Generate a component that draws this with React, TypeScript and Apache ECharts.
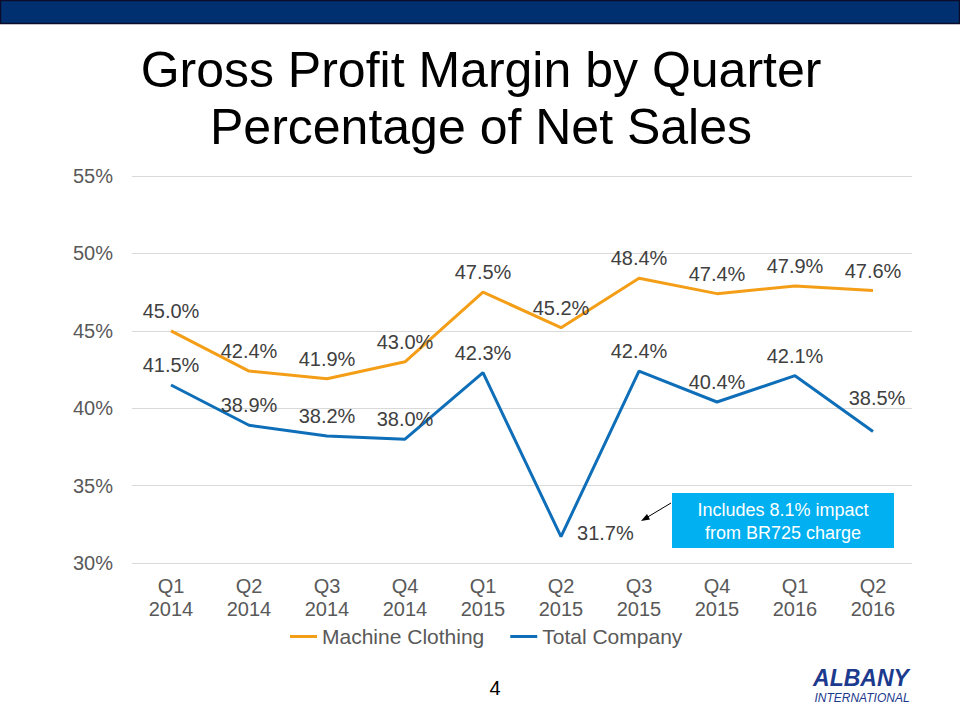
import React, { useEffect, useRef } from "react";
import * as echarts from "echarts";

const categories = [
  "Q1\n2014", "Q2\n2014", "Q3\n2014", "Q4\n2014", "Q1\n2015",
  "Q2\n2015", "Q3\n2015", "Q4\n2015", "Q1\n2016", "Q2\n2016",
];
const machineClothing = [45.0, 42.4, 41.9, 43.0, 47.5, 45.2, 48.4, 47.4, 47.9, 47.6];
const totalCompany = [41.5, 38.9, 38.2, 38.0, 42.3, 31.7, 42.4, 40.4, 42.1, 38.5];
const rightLabelIndexTotal = [5];
const raisedLabelIndexTotal = [9];
const yTicks = { min: 30, max: 55, interval: 5 };

const FONT = "'Liberation Sans', Arial, sans-serif";
const ORANGE = "#F49E17";
const BLUE = "#0E6EB8";

export default function App() {
  const ref = useRef<HTMLDivElement>(null);

  useEffect(() => {
    if (!ref.current) return;
    const chart = echarts.init(ref.current, undefined, { renderer: "svg" });

    const labelBase = {
      show: true,
      position: "top" as const,
      distance: 10,
      fontFamily: FONT,
      fontSize: 20,
      lineHeight: 20,
      color: "#404040",
      formatter: (p: any) => Number(p.value).toFixed(1) + "%",
    };

    const option: any = {
      animation: false,
      backgroundColor: "#ffffff",
      grid: { left: 132, right: 48, top: 176, bottom: 157, containLabel: false },
      legend: {
        bottom: 68,
        left: 285,
        icon: "rect",
        itemWidth: 27,
        itemHeight: 3,
        itemGap: 26,
        textStyle: { fontFamily: FONT, fontSize: 21, color: "#595959" },
        data: ["Machine Clothing", "Total Company"],
      },
      xAxis: {
        type: "category",
        data: categories,
        boundaryGap: true,
        axisLine: { show: false },
        axisTick: { show: false },
        axisLabel: {
          fontFamily: FONT,
          fontSize: 20,
          lineHeight: 23,
          color: "#595959",
          margin: 11,
          interval: 0,
        },
      },
      yAxis: {
        type: "value",
        min: yTicks.min,
        max: yTicks.max,
        interval: yTicks.interval,
        axisLine: { show: false },
        axisTick: { show: false },
        splitLine: { lineStyle: { color: "#D9D9D9", width: 1 } },
        axisLabel: {
          fontFamily: FONT,
          fontSize: 20,
          color: "#595959",
          margin: 19,
          formatter: "{value}%",
        },
      },
      series: [
        {
          name: "Machine Clothing",
          type: "line",
          data: machineClothing,
          symbol: "circle",
          symbolSize: 0.01,
          showSymbol: true,
          lineStyle: { color: ORANGE, width: 3 },
          itemStyle: { color: ORANGE },
          label: labelBase,
        },
        {
          name: "Total Company",
          type: "line",
          data: totalCompany.map((v, i) => {
            if (rightLabelIndexTotal.includes(i))
              return { value: v, label: { position: "right", distance: 16, offset: [0, -4] } };
            if (raisedLabelIndexTotal.includes(i))
              return { value: v, label: { position: "top", distance: 23, offset: [4, 0] } };
            return v;
          }),
          symbol: "circle",
          symbolSize: 0.01,
          showSymbol: true,
          lineStyle: { color: BLUE, width: 3 },
          itemStyle: { color: BLUE },
          label: labelBase,
        },
      ],
      graphic: [
        {
          type: "rect",
          shape: { x: 0.5, y: 0.5, width: 959, height: 23 },
          style: { fill: "#00306F", stroke: "#0B0B2B", lineWidth: 1.5 },
        },
        {
          type: "text",
          x: 481,
          y: 41,
          style: {
            text: "Gross Profit Margin by Quarter\nPercentage of Net Sales",
            fontFamily: FONT,
            fontSize: 50,
            lineHeight: 57,
            fill: "#000000",
            align: "center",
            verticalAlign: "top",
          },
        },
        {
          type: "rect",
          shape: { x: 672, y: 493, width: 222, height: 55 },
          style: { fill: "#00B0F0" },
        },
        {
          type: "text",
          x: 783,
          y: 521,
          style: {
            text: "Includes 8.1% impact\nfrom BR725 charge",
            fontFamily: FONT,
            fontSize: 18,
            lineHeight: 23,
            fill: "#ffffff",
            align: "center",
            verticalAlign: "middle",
          },
        },
        {
          type: "line",
          shape: { x1: 671, y1: 503, x2: 646, y2: 518 },
          style: { stroke: "#000000", lineWidth: 1 },
        },
        {
          type: "polygon",
          shape: { points: [[641, 521], [647, 514], [650, 519.5]] },
          style: { fill: "#000000" },
        },
        {
          type: "text",
          x: 495,
          y: 688,
          style: {
            text: "4",
            fontFamily: FONT,
            fontSize: 20,
            fill: "#000000",
            align: "center",
            verticalAlign: "middle",
          },
        },
        {
          type: "text",
          x: 861,
          y: 678,
          style: {
            text: "ALBANY",
            fontFamily: FONT,
            fontSize: 23,
            fontWeight: "bold",
            fontStyle: "italic",
            fill: "#1C3A8E",
            align: "center",
            verticalAlign: "middle",
          },
        },
        {
          type: "text",
          x: 862,
          y: 698,
          style: {
            text: "INTERNATIONAL",
            fontFamily: FONT,
            fontSize: 12,
            fontStyle: "italic",
            fill: "#1C3A8E",
            align: "center",
            verticalAlign: "middle",
          },
        },
      ],
    };

    chart.setOption(option);
    return () => chart.dispose();
  }, []);

  return (
    <div
      ref={ref}
      style={{ position: "fixed", left: 0, top: 0, width: 960, height: 720, background: "#fff" }}
    />
  );
}
